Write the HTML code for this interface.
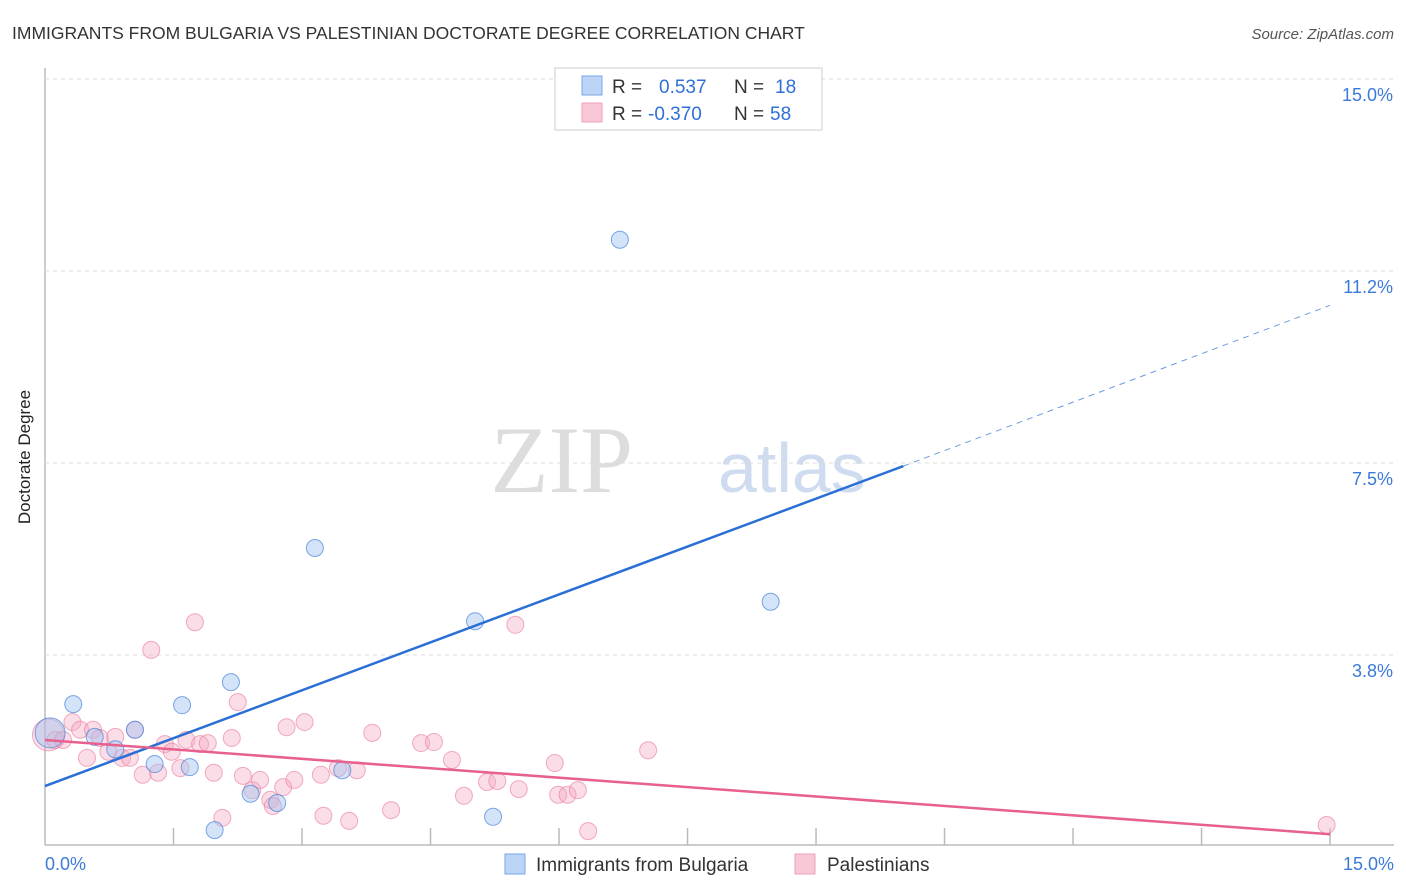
<!DOCTYPE html>
<html><head><meta charset="utf-8"><style>
body{margin:0;background:#fff;font-family:"Liberation Sans",sans-serif}
</style></head><body>
<svg id="c" width="1406" height="892" style="display:block">
<text x="12" y="39" font-size="17.5" fill="#333">IMMIGRANTS FROM BULGARIA VS PALESTINIAN DOCTORATE DEGREE CORRELATION CHART</text>
<text x="1394" y="39" font-size="15" fill="#555" text-anchor="end" font-style="italic">Source: ZipAtlas.com</text>
<text x="30" y="457" font-size="17" fill="#222" text-anchor="middle" transform="rotate(-90 30 457)">Doctorate Degree</text>
<text x="633" y="492" font-size="95" fill="#ddd" font-family="Liberation Serif" text-anchor="end">ZIP</text>
<text x="718" y="492" font-size="70" fill="#cfdcf0">atlas</text>
<g id="grid"></g><g id="pts"></g><g id="lines"></g>
<g>
<rect x="555" y="68" width="267" height="62" fill="#fff" stroke="#ccc"/>
<rect x="582" y="76" width="20" height="19" fill="#bcd4f6" stroke="#7aa6e8"/>
<rect x="582" y="103" width="20" height="19" fill="#f9c8d6" stroke="#f0a0b8"/>
<text x="612" y="93" font-size="19" fill="#333">R = </text><text x="659" y="93" font-size="19" fill="#2f6fd6">0.537</text>
<text x="734" y="93" font-size="19" fill="#333">N = </text><text x="775" y="93" font-size="19" fill="#2f6fd6">18</text>
<text x="612" y="120" font-size="19" fill="#333">R = </text><text x="648" y="120" font-size="19" fill="#2f6fd6">-0.370</text>
<text x="734" y="120" font-size="19" fill="#333">N = </text><text x="770" y="120" font-size="19" fill="#2f6fd6">58</text>
</g>
<g>
<rect x="505" y="854" width="20" height="20" fill="#bcd4f6" stroke="#7aa6e8"/>
<text x="536" y="871" font-size="19" fill="#333">Immigrants from Bulgaria</text>
<rect x="795" y="854" width="20" height="20" fill="#f9c8d6" stroke="#f0a0b8"/>
<text x="827" y="871" font-size="19" fill="#333">Palestinians</text>
</g>
</svg>
<script>
const yTicks=[3.75,7.5,11.25,15];
const yTickLabels=["3.8%","7.5%","11.2%","15.0%"];
const xTickLabels=["0.0%","15.0%"];
const blueX=[0.06,0.33,0.58,0.82,1.05,1.28,1.60,1.69,1.98,2.17,2.40,2.71,3.15,3.47,5.02,5.23,6.71,8.47];
const blueY=[2.23,2.79,2.15,1.91,2.29,1.62,2.77,1.56,0.33,3.22,1.04,0.86,5.84,1.50,4.41,0.59,11.86,4.79];
const pinkX=[0.04,0.12,0.21,0.32,0.41,0.49,0.56,0.64,0.74,0.82,0.90,0.99,1.05,1.14,1.24,1.32,1.40,1.48,1.58,1.65,1.75,1.81,1.90,1.97,2.07,2.18,2.25,2.31,2.42,2.51,2.63,2.66,2.78,2.82,2.91,3.03,3.22,3.25,3.42,3.55,3.64,3.82,4.04,4.39,4.54,4.75,4.89,5.16,5.28,5.53,5.49,5.95,5.99,6.10,6.22,6.34,7.04,14.96];
const pinkY=[2.19,2.09,2.09,2.44,2.29,1.74,2.29,2.13,1.86,2.15,1.74,1.74,2.29,1.41,3.85,1.45,2.01,1.86,1.54,2.09,4.39,2.01,2.03,1.45,0.57,2.13,2.83,1.39,1.11,1.31,0.92,0.80,1.17,2.34,1.31,2.44,1.41,0.61,1.54,0.51,1.50,2.23,0.72,2.03,2.05,1.70,1.00,1.27,1.29,1.13,4.34,1.64,1.02,1.02,1.11,0.31,1.89,0.43];
const blueLine=[1.19,7.44,10.58];const blueLineX=[0,10.02,15];
const pinkLine=[2.09,0.25];const pinkLineX=[0,15];
const NS="http://www.w3.org/2000/svg";
const sx=v=>45+v*85.67, sy=v=>847-v*51.2;
function mk(t,a,p){const e=document.createElementNS(NS,t);for(const k in a)e.setAttribute(k,a[k]);p.appendChild(e);return e;}
const g=document.getElementById('grid');
mk('line',{x1:45,y1:68,x2:45,y2:845,stroke:'#bbb','stroke-width':1.5},g);
mk('line',{x1:45,y1:845,x2:1394,y2:845,stroke:'#bbb','stroke-width':1.5},g);
yTicks.forEach((t,i)=>{
 const l=mk('line',{x1:45,y1:sy(t),x2:1394,y2:sy(t),stroke:'#ddd','stroke-dasharray':'4,4'},g);
 
 
 const tx=mk('text',{x:1393,y:sy(t)+22,'font-size':18,fill:'#3b7ad8','text-anchor':'end'},g);
 tx.textContent=yTickLabels[i];
 
 
});
for(let i=1;i<=10;i++){const v=i*1.5;
 const l=mk('line',{x1:sx(v),y1:828,x2:sx(v),y2:845,stroke:'#bbb','stroke-width':1.5},g);
 
 }
[[0,'start',45],[15,'end',1394]].forEach((d,i)=>{
 const tx=mk('text',{x:d[2],y:870,'font-size':18,fill:'#3b7ad8','text-anchor':d[1]},g);
 tx.textContent=xTickLabels[i];
 
 });
const p=document.getElementById('pts');
pinkX.forEach((x,i)=>{const c=mk('circle',{cx:sx(x),cy:sy(pinkY[i]),r:i==0?16:8.5,fill:'rgba(246,170,195,0.4)',stroke:'rgba(232,120,155,0.6)'},p);
 
 });
blueX.forEach((x,i)=>{const c=mk('circle',{cx:sx(x),cy:sy(blueY[i]),r:i==0?15:8.5,fill:'rgba(160,195,240,0.45)',stroke:'rgba(70,130,220,0.7)'},p);
 
 });
const L=document.getElementById('lines');
let a=mk('line',{x1:sx(blueLineX[0]),y1:sy(blueLine[0]),x2:sx(blueLineX[1]),y2:sy(blueLine[1]),stroke:'#2a6fd6','stroke-width':2.5},L);


a=mk('line',{x1:sx(blueLineX[1]),y1:sy(blueLine[1]),x2:sx(blueLineX[2]),y2:sy(blueLine[2]),stroke:'#6b9be0','stroke-width':1,'stroke-dasharray':'6,5'},L);


a=mk('line',{x1:sx(pinkLineX[0]),y1:sy(pinkLine[0]),x2:sx(pinkLineX[1]),y2:sy(pinkLine[1]),stroke:'#e8608f','stroke-width':2.5},L);


</script>
</body></html>
